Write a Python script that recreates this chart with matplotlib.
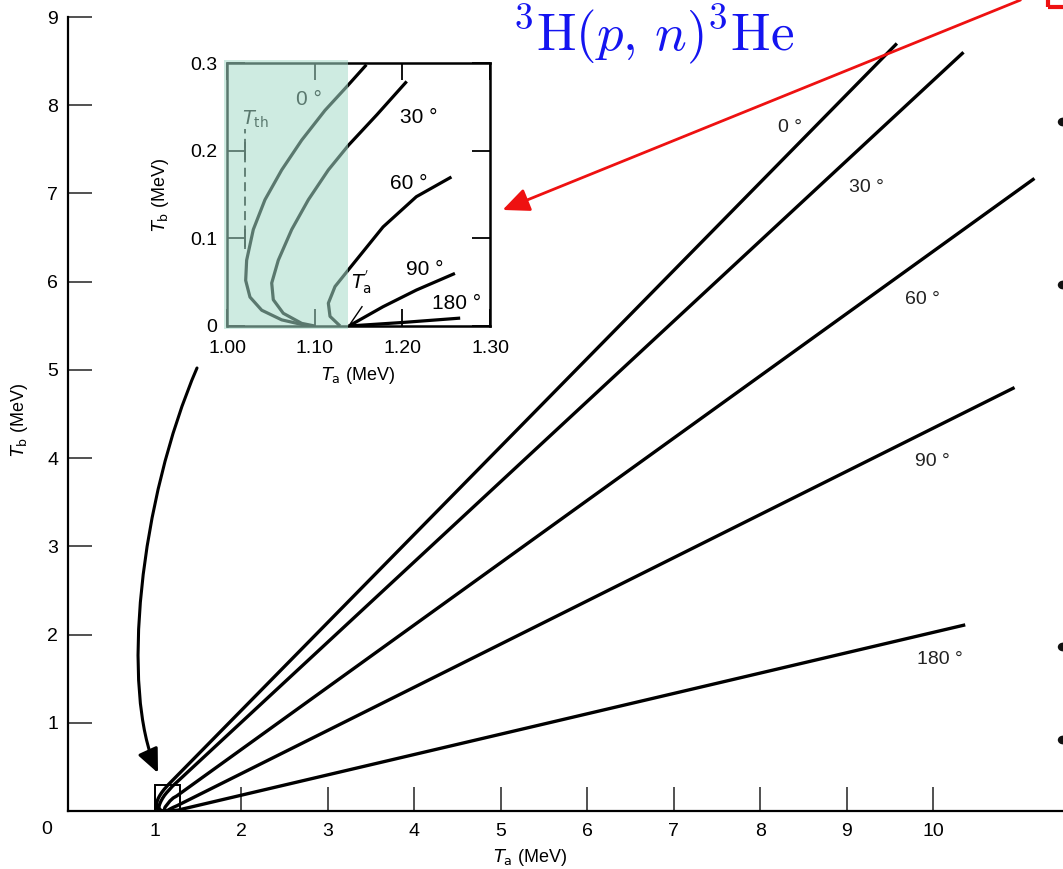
import matplotlib
matplotlib.use("Agg")
import matplotlib.pyplot as plt
import numpy as np
from matplotlib.patches import Rectangle, FancyArrowPatch
from matplotlib.path import Path

plt.rcParams['font.family'] = ['Liberation Sans', 'DejaVu Sans']
plt.rcParams['mathtext.fontset'] = 'dejavusans'

# ---- data : T_a (MeV) vs T_b (MeV) per neutron angle ----
angles = ['0 °', '30 °', '60 °', '90 °', '180 °']
ta_0 = [1.093, 1.0624, 1.0396, 1.0262, 1.0213, 1.0224, 1.030, 1.0433, 1.0624, 1.0852,
        1.1118, 1.1384, 1.159, 9.58]
tb_0 = [0.0, 0.007, 0.018, 0.033, 0.052, 0.075, 0.110, 0.144, 0.178, 0.212,
        0.246, 0.275, 0.298, 8.70]
ta_30 = [1.100, 1.0852, 1.0642, 1.0528, 1.051, 1.0585, 1.0738, 1.0928, 1.1156, 1.1384,
         1.171, 1.205, 10.35]
tb_30 = [0.0, 0.003, 0.0145, 0.030, 0.049, 0.075, 0.110, 0.144, 0.178, 0.206,
         0.241, 0.279, 8.60]
ta_60 = [1.129, 1.1175, 1.1156, 1.1232, 1.1384, 1.178, 1.216, 1.256, 11.17]
tb_60 = [0.0, 0.011, 0.026, 0.045, 0.064, 0.113, 0.1475, 0.170, 7.17]
ta_90 = [1.139, 1.178, 1.216, 1.260, 10.94]
tb_90 = [0.0, 0.022, 0.041, 0.060, 4.80]
ta_180 = [1.139, 1.20, 1.266, 10.37]
tb_180 = [0.0, 0.004, 0.009, 2.11]
curves_ta = [ta_0, ta_30, ta_60, ta_90, ta_180]
curves_tb = [tb_0, tb_30, tb_60, tb_90, tb_180]

x_ticks = [1, 2, 3, 4, 5, 6, 7, 8, 9, 10]
y_ticks = [1, 2, 3, 4, 5, 6, 7, 8, 9]
inset_xticks = [1.00, 1.10, 1.20, 1.30]
inset_xticklabels = ['1.00', '1.10', '1.20', '1.30']
inset_yticks = [0, 0.1, 0.2, 0.3]
inset_yticklabels = ['0', '0.1', '0.2', '0.3']
T_th = 1.0205

W, H = 1063, 869
fig = plt.figure(figsize=(W / 100, H / 100), dpi=100)

def fx(px):
    return px / W

def fy(py):
    return 1 - py / H

# ---------------- main axes ----------------
ax = fig.add_axes([fx(68), fy(811), 1 - fx(68), fy(17) - fy(811)])
ax.set_xlim(0, 11.5)
ax.set_ylim(0, 9)
for s in ['top', 'right']:
    ax.spines[s].set_visible(False)
for s in ['left', 'bottom']:
    ax.spines[s].set_linewidth(1.6)
ax.set_xticks(x_ticks)
ax.set_xticklabels([str(v) for v in x_ticks])
ax.set_yticks(y_ticks)
ax.set_yticklabels([str(v) for v in y_ticks])
ax.tick_params(direction='in', length=17, width=1.1, labelsize=14, color='#222222')
ax.tick_params(axis='x', pad=9)
ax.tick_params(axis='y', pad=7)
fig.text(fx(47), fy(829), '0', fontsize=14, ha='center', va='center')

for ta, tb in zip(curves_ta, curves_tb):
    ax.plot(ta, tb, color='black', lw=2.4, solid_capstyle='butt', zorder=3)

# small box marking the inset region
ax.add_patch(Rectangle((1.0, 0.0), 0.3, 0.3, fill=False, ec='black', lw=1.4, zorder=4))

main_label_pos = [(790, 128), (866, 188), (922, 300), (932, 462), (940, 660)]
for lab, (px, py) in zip(angles, main_label_pos):
    fig.text(fx(px), fy(py), lab, fontsize=14, ha='center', va='center', color='#222222')

fig.text(fx(20), fy(420), r'$T_\mathrm{b}$ (MeV)', rotation=90, fontsize=13,
         ha='center', va='center')
fig.text(fx(530), fy(858), r'$T_\mathrm{a}$ (MeV)', fontsize=13, ha='center', va='center')

# ---------------- inset ----------------
axi = fig.add_axes([fx(227), fy(326), fx(490) - fx(227), fy(63) - fy(326)])
axi.set_facecolor('white')
axi.set_xlim(1.0, 1.3)
axi.set_ylim(0, 0.3)
for s in axi.spines.values():
    s.set_linewidth(1.8)
axi.set_xticks(inset_xticks)
axi.set_xticklabels(inset_xticklabels)
axi.set_yticks(inset_yticks)
axi.set_yticklabels(inset_yticklabels)
axi.tick_params(direction='in', top=True, right=True, labelsize=14, width=1.3)
axi.tick_params(axis='x', length=12, pad=10)
axi.tick_params(axis='y', length=13, pad=7)
axi.set_xlabel(r'$T_\mathrm{a}$ (MeV)', fontsize=13, labelpad=6)
axi.set_ylabel(r'$T_\mathrm{b}$ (MeV)', fontsize=13, labelpad=14)

for ta, tb in zip(curves_ta, curves_tb):
    ta = np.asarray(ta)
    tb = np.asarray(tb)
    m = ta <= 1.3
    axi.plot(ta[m], tb[m], color='black', lw=2.3, solid_capstyle='butt',
             solid_joinstyle='round', zorder=3)

# threshold marker
axi.plot([T_th, T_th], [0.088, 0.225], color='black', lw=1.3, ls=(0, (5, 3)))
for yv in [0.1, 0.2]:
    axi.plot([T_th, T_th], [yv - 0.009, yv + 0.009], color='black', lw=1.4)
axi.text(1.017, 0.236, r'$T_\mathrm{th}$', fontsize=14, ha='left', va='center')
axi.text(1.154, 0.05, r"$T_\mathrm{a}^{'}$", fontsize=14, ha='center', va='center')
axi.plot([1.141, 1.154], [0.003, 0.022], color='black', lw=1.0)

inset_label_pos = [(1.093, 0.258), (1.219, 0.238), (1.207, 0.163), (1.226, 0.064), (1.262, 0.026)]
for lab, (x, y) in zip(angles, inset_label_pos):
    axi.text(x, y, lab, fontsize=15, ha='center', va='center')

# teal highlight overlay
axi.add_patch(Rectangle((0.997, -0.003), 0.1415, 0.306, transform=axi.transData,
                        facecolor='#a6dcca', alpha=0.55, edgecolor='none',
                        clip_on=False, zorder=10))

# ---------------- annotations ----------------
pts = [(197, 368), (140, 500), (120, 690), (158, 773)]
arc = Path([(fx(a), fy(b)) for a, b in pts],
           [Path.MOVETO, Path.CURVE4, Path.CURVE4, Path.CURVE4])
curved = FancyArrowPatch(path=arc, transform=fig.transFigure,
                         arrowstyle='-|>,head_length=9,head_width=4', color='black',
                         lw=2.2, mutation_scale=1.6)
fig.add_artist(curved)

red = FancyArrowPatch(posA=(fx(1023), fy(-1)), posB=(fx(500), fy(211)),
                      transform=fig.transFigure, arrowstyle='-|>,head_length=9,head_width=4',
                      color='#ee1111', lw=2.0, mutation_scale=1.8)
fig.add_artist(red)
fig.add_artist(Rectangle((fx(1048), fy(7)), 0.05, 0.02, transform=fig.transFigure,
                         fill=False, ec='#ee1111', lw=3))

fig.text(fx(653), fy(50), r'$^{3}\mathrm{H}(p,\,n)^{3}\mathrm{He}$', fontsize=38,
         color='#1414f0', ha='center', va='baseline', math_fontfamily='cm')

# bullets at right edge
for py in [122, 285, 647, 740]:
    fig.add_artist(plt.Circle((fx(1063), fy(py)), 4.5 / W, transform=fig.transFigure,
                              color='#111111'))

fig.savefig('out.png', dpi=100)
